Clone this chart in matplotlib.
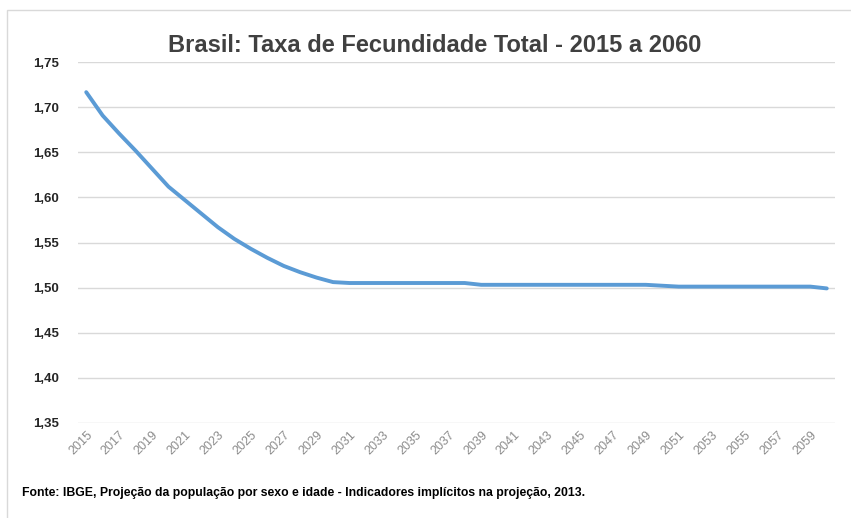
import matplotlib.pyplot as plt
from matplotlib.patches import Rectangle
from matplotlib.ticker import FuncFormatter

# taxa de fecundidade total
anos = list(range(2015, 2061))
tft = [1.717, 1.691, 1.671, 1.652, 1.632, 1.612, 1.597, 1.582, 1.567, 1.554,
       1.543, 1.533, 1.524, 1.517, 1.511, 1.506, 1.505, 1.505, 1.505, 1.505,
       1.505, 1.505, 1.505, 1.505, 1.503, 1.503, 1.503, 1.503, 1.503, 1.503,
       1.503, 1.503, 1.503, 1.503, 1.503, 1.502, 1.501, 1.501, 1.501, 1.501,
       1.501, 1.501, 1.501, 1.501, 1.501, 1.499]
yticks = [1.35, 1.40, 1.45, 1.50, 1.55, 1.60, 1.65, 1.70, 1.75]

plt.rcParams['font.family'] = ['Liberation Sans', 'DejaVu Sans']

fig = plt.figure(figsize=(8.51, 5.18), dpi=100)
ax = fig.add_axes([78/851, 1-423/518, (835-78)/851, (423-62)/518])

x = list(range(len(anos)))
ax.plot(x, tft, color='#5B9BD5', lw=2.8, solid_capstyle='round')

ax.set_xlim(-0.5, len(anos) - 0.5)
ax.set_ylim(1.3495, 1.7505)
ax.set_yticks(yticks)
ax.yaxis.set_major_formatter(FuncFormatter(lambda v, p: f'{v:.2f}'.replace('.', ',')))
ax.set_xticks(x[::2])
ax.set_xticklabels([str(a) for a in anos[::2]], rotation=45, ha='right',
                   rotation_mode='anchor', color='#8c8c8c', fontsize=9)
for t in ax.get_yticklabels():
    t.set_fontweight('bold')
    t.set_fontsize(9.5)
    t.set_color('#262626')

ax.grid(axis='y', color='#d9d9d9', lw=1)
ax.set_axisbelow(True)
for s in ax.spines.values():
    s.set_visible(False)
ax.tick_params(length=0)
ax.tick_params(axis='y', pad=14)
ax.tick_params(axis='x', pad=4)

fig.text(0.511, 1-45/518, 'Brasil: Taxa de Fecundidade Total - 2015 a 2060',
         ha='center', va='center', fontsize=17, fontweight='bold', color='#404040')
fig.text(22/851, 1-493/518,
         'Fonte: IBGE, Projeção da população por sexo e idade - Indicadores implícitos na projeção, 2013.',
         ha='left', va='center', fontsize=8.8, fontweight='bold', color='#000000')

# moldura do grafico
fig.patches.append(Rectangle((7/851, -0.1), 1.2, 1.1 - 10/518, transform=fig.transFigure,
                             fill=False, edgecolor='#d9d9d9', lw=1))

fig.savefig('out.png', dpi=100)
